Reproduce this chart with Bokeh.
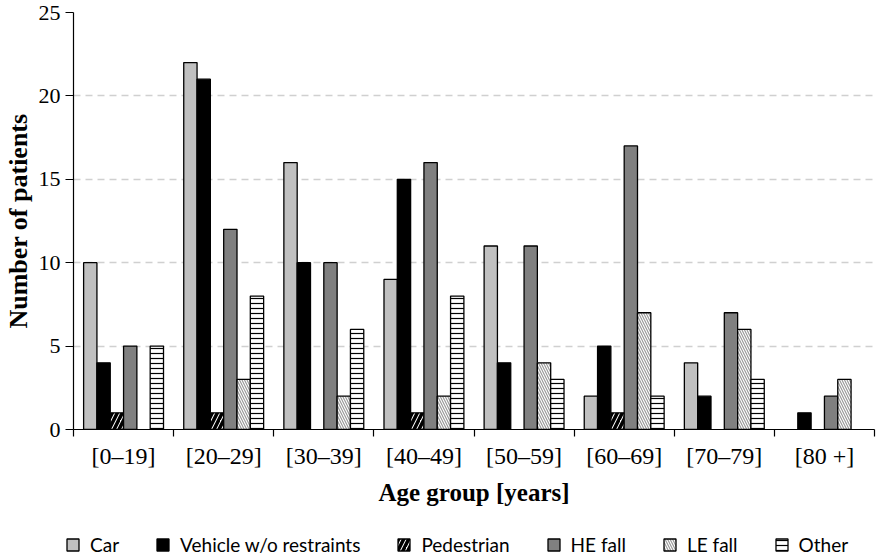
import numpy as np
from bokeh.plotting import figure
from bokeh.layouts import column
from bokeh.models import Range1d, FixedTicker, Legend, LegendItem, ColumnDataSource
from bokeh.embed import file_html
from bokeh.resources import INLINE

age_groups = ["[0\u201319]", "[20\u201329]", "[30\u201339]", "[40\u201349]",
              "[50\u201359]", "[60\u201369]", "[70\u201379]", "[80 +]"]
series_names = ["Car", "Vehicle w/o restraints", "Pedestrian", "HE fall", "LE fall", "Other"]
car = [10, 22, 16, 9, 11, 2, 4, 0]
vehicle = [4, 21, 10, 15, 4, 5, 2, 1]
pedestrian = [1, 1, 0, 1, 0, 1, 0, 0]
he_fall = [5, 12, 10, 16, 11, 17, 7, 2]
le_fall = [0, 3, 2, 2, 4, 7, 6, 3]
other = [5, 8, 6, 8, 3, 2, 3, 0]
y_ticks = [0, 5, 10, 15, 20, 25]

series_values = [car, vehicle, pedestrian, he_fall, le_fall, other]
styles = [
    dict(fill_color="#c0c0c0"),
    dict(fill_color="#000000"),
    dict(fill_color="#ffffff", hatch_pattern="/", hatch_color="#000000", hatch_scale=10, hatch_weight=3.5),
    dict(fill_color="#808080"),
    dict(fill_color="#ffffff", hatch_pattern="\\", hatch_color="#9a9a9a", hatch_scale=5, hatch_weight=1.2),
    dict(fill_color="#ffffff", hatch_pattern="-", hatch_color="#000000", hatch_scale=5, hatch_weight=1.2),
]

SERIF = "Liberation Serif"
SANS = "Lato"
W = 876

n = len(age_groups)
p = figure(width=W, height=508, output_backend="svg", toolbar_location=None,
           x_range=Range1d(0, n), y_range=Range1d(0, 25),
           min_border_left=71, min_border_right=2, min_border_top=12, min_border_bottom=76)
p.outline_line_color = None
p.frame_align = False

bw = 0.133
centers = np.arange(n) + 0.5
for j, (name, vals, st) in enumerate(zip(series_names, series_values, styles)):
    src = ColumnDataSource(dict(x=centers + (j - 2.5) * bw, top=vals,
                                la=[0.0 if v == 0 else 1.0 for v in vals]))
    p.vbar(x="x", top="top", bottom=0, width=bw, source=src,
           line_color="black", line_width=1.3, line_alpha="la", **st)

# axes
xa = p.xaxis[0]
xa.ticker = FixedTicker(ticks=list(centers), minor_ticks=list(range(n + 1)))
xa.major_label_overrides = {float(c): g for c, g in zip(centers, age_groups)}
xa.major_tick_out = 0
xa.major_tick_in = 0
xa.minor_tick_out = 7
xa.minor_tick_in = 0
xa.minor_tick_line_color = "black"
xa.minor_tick_line_width = 1.2
xa.axis_line_color = "black"
xa.axis_line_width = 1.2
xa.major_label_standoff = 6
xa.major_label_text_font = SERIF
xa.major_label_text_font_size = "24px"
xa.major_label_text_color = "black"
xa.axis_label = "Age group [years]"
xa.axis_label_text_font = SERIF
xa.axis_label_text_font_style = "bold"
xa.axis_label_text_font_size = "25px"
xa.axis_label_standoff = 7
xa.axis_label_text_color = "black"

ya = p.yaxis[0]
ya.ticker = FixedTicker(ticks=y_ticks)
ya.minor_tick_out = 0
ya.minor_tick_in = 0
ya.major_tick_out = 8
ya.major_tick_in = 0
ya.major_tick_line_width = 1.2
ya.axis_line_color = "black"
ya.axis_line_width = 1.2
ya.major_label_standoff = 5
ya.major_label_text_font = SERIF
ya.major_label_text_font_size = "22px"
ya.major_label_text_color = "black"
ya.axis_label = "Number of patients"
ya.axis_label_text_font = SERIF
ya.axis_label_text_font_style = "bold"
ya.axis_label_text_font_size = "26px"
ya.axis_label_standoff = 3
ya.axis_label_text_color = "black"

p.xgrid.grid_line_color = None
p.ygrid.ticker = FixedTicker(ticks=y_ticks[1:])
p.ygrid.grid_line_color = "#d0d0d0"
p.ygrid.grid_line_dash = "7 5"
p.ygrid.grid_line_width = 1.3

# legend in its own strip below the chart
lf = figure(width=W, height=49, output_backend="svg", toolbar_location=None,
            x_range=Range1d(0, 1), y_range=Range1d(0, 1),
            x_axis_location=None, y_axis_location=None,
            min_border_left=0, min_border_right=0, min_border_top=0, min_border_bottom=0)
lf.grid.visible = False
lf.outline_line_color = None
lf.frame_align = False
items = []
for name, st in zip(series_names, styles):
    r = lf.vbar(x=[0.5], top=[1], bottom=0, width=0.1, line_color="black", line_width=1.3, **st)
    r.visible = False
    items.append(LegendItem(label=name, renderers=[r]))

legend = Legend(items=items, orientation="horizontal", location=(65, 1))
legend.border_line_color = None
legend.background_fill_alpha = 0
legend.label_text_font = SANS
legend.label_text_font_size = "19px"
legend.label_text_color = "black"
legend.glyph_width = 15
legend.glyph_height = 15
legend.label_standoff = 10
legend.spacing = 36
legend.margin = 0
legend.padding = 0
lf.add_layout(legend)

layout = column(p, lf, spacing=0)
open("out.html", "w").write(file_html(layout, INLINE))
